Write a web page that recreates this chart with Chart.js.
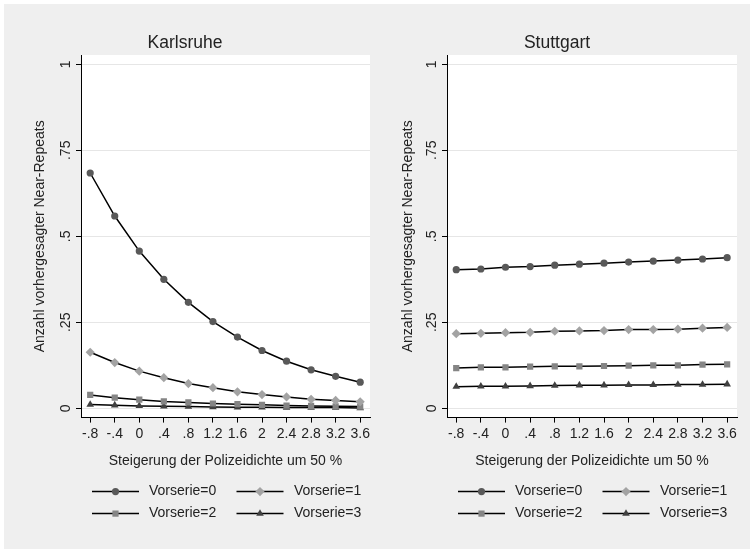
<!DOCTYPE html>
<html>
<head>
<meta charset="utf-8">
<title>Near-Repeats Karlsruhe / Stuttgart</title>
<script src="https://cdn.jsdelivr.net/npm/chart.js@4.4.1/dist/chart.umd.min.js"></script>
<style>
  body { margin: 0; background: #fff; }
  #frame { position: absolute; left: 4px; top: 4px; width: 746px; height: 545px; background: #efefef; }
  canvas { position: absolute; top: 0; }
  #karlsruhe { left: 0; }
  #stuttgart { left: 377px; }
</style>
</head>
<body>
<div id="frame"></div>
<canvas id="karlsruhe" width="377" height="553"></canvas>
<canvas id="stuttgart" width="377" height="553"></canvas>
<script>
// x = Steigerung der Polizeidichte, one point per tick
const xValues = [-0.8, -0.4, 0, 0.4, 0.8, 1.2, 1.6, 2, 2.4, 2.8, 3.2, 3.6];
const xTickLabels = ['-.8', '-.4', '0', '.4', '.8', '1.2', '1.6', '2', '2.4', '2.8', '3.2', '3.6'];
const yTicks = [0, 0.25, 0.5, 0.75, 1];
const yTickLabels = ['0', '.25', '.5', '.75', '1'];
const seriesNames = ['Vorserie=0', 'Vorserie=1', 'Vorserie=2', 'Vorserie=3'];

// Karlsruhe
const karlsruhe0 = [0.684, 0.559, 0.457, 0.375, 0.308, 0.252, 0.207, 0.168, 0.137, 0.112, 0.093, 0.076];
const karlsruhe1 = [0.163, 0.133, 0.108, 0.089, 0.072, 0.060, 0.048, 0.040, 0.033, 0.026, 0.023, 0.019];
const karlsruhe2 = [0.039, 0.031, 0.025, 0.020, 0.017, 0.014, 0.012, 0.010, 0.008, 0.007, 0.006, 0.005];
const karlsruhe3 = [0.011, 0.009, 0.007, 0.006, 0.005, 0.004, 0.003, 0.003, 0.002, 0.002, 0.002, 0.001];

// Stuttgart
const stuttgart0 = [0.403, 0.405, 0.410, 0.412, 0.416, 0.419, 0.422, 0.425, 0.428, 0.431, 0.434, 0.438];
const stuttgart1 = [0.217, 0.218, 0.220, 0.221, 0.224, 0.225, 0.226, 0.229, 0.229, 0.230, 0.233, 0.235];
const stuttgart2 = [0.117, 0.119, 0.119, 0.121, 0.122, 0.122, 0.123, 0.124, 0.125, 0.125, 0.127, 0.128];
const stuttgart3 = [0.063, 0.064, 0.064, 0.065, 0.066, 0.067, 0.067, 0.068, 0.068, 0.069, 0.069, 0.070];

// marker look per series (Stata s1 style greys)
const markerStyles = ['circle', 'rectRot', 'rect', 'triangle'];
const markerColors = ['#595959', '#a3a3a3', '#858585', '#404040'];
const markerRadius = [3.6, 4.6, 4.4, 4.4];

Chart.defaults.font.family = '"Liberation Sans", Arial, sans-serif';
Chart.defaults.color = '#222';

function drawMarker(ctx, style, r, x, y) {
    ctx.beginPath();
    if (style === 'circle') {
        ctx.arc(x, y, r, 0, Math.PI * 2);
    } else if (style === 'rectRot') {
        ctx.moveTo(x, y - r);
        ctx.lineTo(x + r, y);
        ctx.lineTo(x, y + r);
        ctx.lineTo(x - r, y);
        ctx.closePath();
    } else if (style === 'rect') {
        const s = r * Math.SQRT1_2;
        ctx.rect(x - s, y - s, 2 * s, 2 * s);
    } else {
        ctx.moveTo(x, y - r);
        ctx.lineTo(x + r * 0.866, y + r * 0.5);
        ctx.lineTo(x - r * 0.866, y + r * 0.5);
        ctx.closePath();
    }
    ctx.fill();
}

// white plot region on the grey graph background
const plotBackground = {
    id: 'plotBackground',
    beforeDraw(chart) {
        const { ctx, chartArea: a } = chart;
        ctx.save();
        ctx.fillStyle = '#fff';
        ctx.fillRect(a.left, a.top, a.right - a.left, a.bottom - a.top);
        ctx.restore();
    }
};

// Stata-like legend: line with marker in the middle, two columns
const lineLegend = {
    id: 'lineLegend',
    afterDraw(chart) {
        const { ctx, chartArea: a } = chart;
        const cols = [{ x1: 11, x2: 58, tx: 68 }, { x1: 155.5, x2: 202.5, tx: 213 }];
        const rows = [74, 96];
        ctx.save();
        ctx.font = '14px "Liberation Sans", Arial, sans-serif';
        ctx.textBaseline = 'middle';
        ctx.textAlign = 'left';
        chart.data.datasets.forEach((ds, i) => {
            const c = cols[i % 2];
            const y = a.bottom + rows[Math.floor(i / 2)];
            ctx.strokeStyle = '#000';
            ctx.lineWidth = 1.5;
            ctx.beginPath();
            ctx.moveTo(a.left + c.x1, y);
            ctx.lineTo(a.left + c.x2, y);
            ctx.stroke();
            ctx.fillStyle = markerColors[i];
            drawMarker(ctx, markerStyles[i], markerRadius[i], a.left + (c.x1 + c.x2) / 2, y);
            ctx.fillStyle = '#222';
            ctx.fillText(ds.label, a.left + c.tx, y);
        });
        ctx.restore();
    }
};

function makeChart(canvasId, title, series, yWidth, padRight, yTitlePad) {
    const datasets = series.map((values, i) => ({
        label: seriesNames[i],
        data: values.map((v, j) => ({ x: xValues[j], y: v })),
        borderColor: '#000',
        borderWidth: 1.5,
        tension: 0,
        pointStyle: markerStyles[i],
        pointRadius: markerRadius[i],
        pointBackgroundColor: markerColors[i],
        pointBorderWidth: 0
    }));

    return new Chart(document.getElementById(canvasId), {
        type: 'line',
        data: { datasets },
        plugins: [plotBackground, lineLegend],
        options: {
            responsive: false,
            animation: false,
            layout: { padding: { left: 0, right: padRight, top: 0, bottom: 83 } },
            plugins: {
                legend: { display: false },
                tooltip: { enabled: false },
                title: {
                    display: true,
                    text: title,
                    color: '#222',
                    font: { size: 17.5, weight: 'normal' },
                    padding: { top: 32.5, bottom: 1.5 }
                }
            },
            scales: {
                x: {
                    type: 'linear',
                    min: -0.95,
                    max: 3.76,
                    afterBuildTicks: s => { s.ticks = xValues.map(v => ({ value: v })); },
                    afterFit: s => { s.height = 52.4; },
                    ticks: {
                        callback: (v, i) => xTickLabels[i],
                        autoSkip: false,
                        maxRotation: 0,
                        padding: 3,
                        color: '#222',
                        font: { size: 14 }
                    },
                    grid: { drawOnChartArea: false, tickLength: 5, tickColor: '#000' },
                    border: { color: '#000', width: 1 },
                    title: {
                        display: true,
                        text: 'Steigerung der Polizeidichte um 50 %',
                        color: '#222',
                        font: { size: 14 },
                        padding: 0
                    }
                },
                y: {
                    type: 'linear',
                    min: -0.027,
                    max: 1.027,
                    afterBuildTicks: s => { s.ticks = yTicks.map(v => ({ value: v })); },
                    afterFit: s => { s.width = yWidth; },
                    ticks: {
                        callback: (v, i) => yTickLabels[i],
                        minRotation: 90,
                        maxRotation: 90,
                        crossAlign: 'center',
                        padding: 0,
                        color: '#222',
                        font: { size: 14 }
                    },
                    grid: { color: '#e6e6e6', tickLength: 5, tickColor: '#000' },
                    border: { color: '#000', width: 1 },
                    title: {
                        display: true,
                        text: 'Anzahl vorhergesagter Near-Repeats',
                        color: '#222',
                        font: { size: 14 },
                        padding: { top: yTitlePad, bottom: 0 }
                    }
                }
            }
        }
    });
}

makeChart('karlsruhe', 'Karlsruhe', [karlsruhe0, karlsruhe1, karlsruhe2, karlsruhe3], 81, 7, 31.6);
makeChart('stuttgart', 'Stuttgart', [stuttgart0, stuttgart1, stuttgart2, stuttgart3], 70, 17, 22.9);
</script>
</body>
</html>
